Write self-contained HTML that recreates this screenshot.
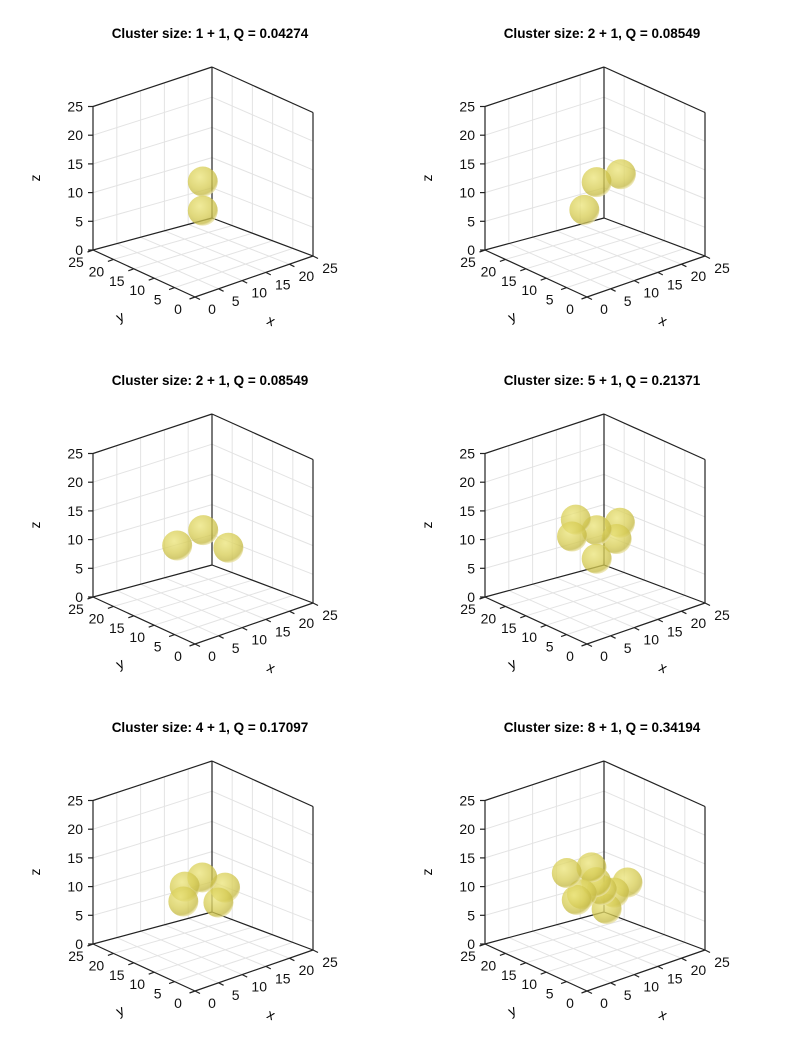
<!DOCTYPE html>
<html><head><meta charset="utf-8"><style>
html,body{margin:0;padding:0;background:#fff;}
svg{display:block;font-family:"Liberation Sans",sans-serif;}
</style></head><body>
<svg id="fig" width="800" height="1061" viewBox="0 0 800 1061">
<defs>
<radialGradient id="sph" cx="0.4" cy="0.35" r="0.65">
<stop offset="0" stop-color="#ece57e"/>
<stop offset="0.6" stop-color="#d8ce58"/>
<stop offset="0.9" stop-color="#c6bb48"/>
<stop offset="1" stop-color="#e8e0a0"/>
</radialGradient>
</defs>
</svg>
<script>
const titles = ["Cluster size: 1 + 1, Q = 0.04274","Cluster size: 2 + 1, Q = 0.08549","Cluster size: 2 + 1, Q = 0.08549","Cluster size: 5 + 1, Q = 0.21371","Cluster size: 4 + 1, Q = 0.17097","Cluster size: 8 + 1, Q = 0.34194"];
const ticks = [0,5,10,15,20,25];
const spheresX = [
 [12.4,12.4],
 [10.2,12.8,17.9],
 [7.0,12.5,17.8],
 [8.4,17.7,7.6,12.8,17.0,12.8],
 [8.6,12.3,17.1,8.3,15.7],
 [6.5,11.7,12.7,19.3,8.6,13.9,14.9,9.7,16.5]
];
const spheresY = [
 [12.5,12.5],
 [12.5,12.5,12.5],
 [12.5,12.5,12.5],
 [12.5,12.5,12.5,12.5,12.5,12.5],
 [12.5,12.5,12.5,12.5,12.5],
 [12.5,12.5,12.5,12.5,12.5,12.5,12.5,12.5,12.5]
];
const spheresZ = [
 [12.7,7.7],
 [8.4,12.5,12.5],
 [11.2,12.4,8.0],
 [15.3,12.3,12.6,12.3,9.7,7.4],
 [11.8,12.4,9.4,9.3,7.2],
 [14.7,14.3,11.5,9.7,9.5,9.8,6.3,10.2,8.7]
];
const NS="http://www.w3.org/2000/svg";
const svg=document.getElementById('fig');
function mk(tag,attrs,parent){const e=document.createElementNS(NS,tag);for(const k in attrs)e.setAttribute(k,attrs[k]);(parent||svg).appendChild(e);return e;}
const F=[195,297],R=[313,256],L=[93,250],B=[212,218];
function proj(x,y,z,ox,oy){
 const u=x/25,v=y/25;
 const px=F[0]+u*(R[0]-F[0])+v*(L[0]-F[0])+u*v*(B[0]-R[0]-L[0]+F[0]);
 const py=F[1]+u*(R[1]-F[1])+v*(L[1]-F[1])+u*v*(B[1]-R[1]-L[1]+F[1]);
 const h=5.74+0.3*u*v;
 return [px+ox,py-z*h+oy];
}
const offX=[0,392],offY=[0,347,694];
for(let p=0;p<6;p++){
 const ox=offX[p%2],oy=offY[Math.floor(p/2)];
 const g=mk('g',{});
 
 
 const t=mk('text',{x:210+ox,y:38+oy,'text-anchor':'middle','font-size':'13.5','font-weight':'bold',fill:'#000'},g);
 t.textContent=titles[p];
 
 
 const grid=mk('g',{stroke:'#e3e3e3','stroke-width':'1',fill:'none'},g);
 
 
 function ln(a,b,par){return mk('line',{x1:a[0],y1:a[1],x2:b[0],y2:b[1]},par);}
 for(const v of [5,10,15,20]){
  ln(proj(v,0,0,ox,oy),proj(v,25,0,ox,oy),grid);
  ln(proj(0,v,0,ox,oy),proj(25,v,0,ox,oy),grid);
  ln(proj(v,25,0,ox,oy),proj(v,25,25,ox,oy),grid);
  ln(proj(25,v,0,ox,oy),proj(25,v,25,ox,oy),grid);
  ln(proj(0,25,v,ox,oy),proj(25,25,v,ox,oy),grid);
  ln(proj(25,0,v,ox,oy),proj(25,25,v,ox,oy),grid);
 }
 const ax=mk('g',{stroke:'#222','stroke-width':'1.2',fill:'none'},g);
 
 
 const edges=[[[0,0,0],[25,0,0]],[[0,0,0],[0,25,0]],[[0,25,0],[25,25,0]],[[25,0,0],[25,25,0]],
  [[0,25,0],[0,25,25]],[[25,25,0],[25,25,25]],[[25,0,0],[25,0,25]],[[0,25,25],[25,25,25]],[[25,0,25],[25,25,25]]];
 for(const e of edges){ln(proj(...e[0],ox,oy),proj(...e[1],ox,oy),ax);}
 const lab=mk('g',{'font-size':'14',fill:'#111'},g);
 for(const v of ticks){
  const pz=proj(0,25,v,ox,oy);
  ln(pz,[pz[0]-5,pz[1]],ax);
  const tz=mk('text',{x:pz[0]-10,y:pz[1]+5,'text-anchor':'end'},lab);
  tz.textContent=v;
  
  
  const py=proj(0,v,0,ox,oy);
  ln(py,[py[0]-5.5,py[1]+2],ax);
  const ty=mk('text',{x:py[0]-17,y:py[1]+17,'text-anchor':'middle'},lab);
  ty.textContent=v;
  
  
  const px=proj(v,0,0,ox,oy);
  ln(px,[px[0]+5,px[1]+2.5],ax);
  const tx=mk('text',{x:px[0]+17,y:px[1]+17,'text-anchor':'middle'},lab);
  tx.textContent=v;
  
  
 }
 const zt=mk('text',{x:0,y:0,'font-size':'14','text-anchor':'middle',transform:`translate(${40+ox},${178+oy}) rotate(-90)`},g);
 zt.textContent='z';
 
 
 const yt=mk('text',{x:0,y:0,'font-size':'14','text-anchor':'middle',transform:`translate(${122+ox},${321+oy}) rotate(-25)`},g);
 yt.textContent='y';
 
 
 const xt=mk('text',{x:0,y:0,'font-size':'14','text-anchor':'middle',transform:`translate(${269+ox},${325+oy}) rotate(25)`},g);
 xt.textContent='x';
 
 
 const idx=spheresX[p].map((_,i)=>i).sort((a,b)=>(spheresX[p][b]+spheresY[p][b])-(spheresX[p][a]+spheresY[p][a]));
 for(const i of idx){
  const c=proj(spheresX[p][i],spheresY[p][i],spheresZ[p][i],ox,oy);
  const s=mk('circle',{cx:c[0],cy:c[1],r:15,fill:'url(#sph)','fill-opacity':'0.78'},g);
  
  
 }
}
</script>
</body></html>
